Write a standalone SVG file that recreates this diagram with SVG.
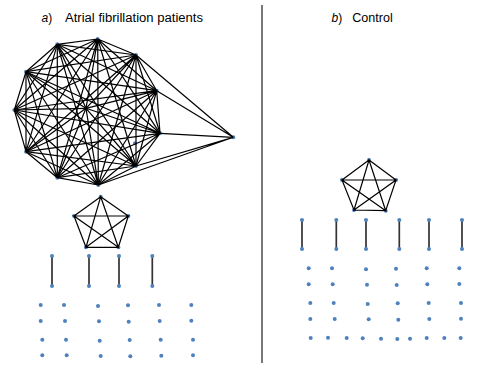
<svg xmlns="http://www.w3.org/2000/svg" width="498" height="374" viewBox="0 0 498 374">
<style>
.n{fill:#4f81bd}
.e{stroke:#000;stroke-width:1.2;fill:none}
.p{stroke:#333;stroke-width:1.7;fill:none}
.t{font-family:"Liberation Sans",Arial,sans-serif;font-size:12px;fill:#000}
.i{font-style:italic}
</style>
<rect width="498" height="374" fill="#fff"/>
<line x1="262" y1="5" x2="262" y2="363" stroke="#555" stroke-width="1.6"/>
<text class="t" x="41.5" y="22"><tspan class="i">a</tspan>)</text>
<text class="t" x="65" y="22" textLength="138" lengthAdjust="spacingAndGlyphs">Atrial fibrillation patients</text>
<text class="t" x="331.5" y="22"><tspan class="i">b</tspan>)</text>
<text class="t" x="352.3" y="22" textLength="40.5" lengthAdjust="spacingAndGlyphs">Control</text>

<g id="nodes-a-cluster">
<circle id="a0" class="n" cx="97.7" cy="39" r="2"/>
<circle id="a1" class="n" cx="136" cy="55" r="2"/>
<circle id="a2" class="n" cx="156.7" cy="90.7" r="2"/>
<circle id="a3" class="n" cx="160" cy="133.3" r="2"/>
<circle id="a4" class="n" cx="136" cy="166" r="2"/>
<circle id="a5" class="n" cx="98.3" cy="185" r="2"/>
<circle id="a6" class="n" cx="57.3" cy="177.7" r="2"/>
<circle id="a7" class="n" cx="26" cy="151.7" r="2"/>
<circle id="a8" class="n" cx="14.3" cy="110" r="2"/>
<circle id="a9" class="n" cx="26" cy="71.7" r="2"/>
<circle id="a10" class="n" cx="57.3" cy="44.3" r="2"/>
<circle id="a11" class="n" cx="86" cy="108.3" r="2"/>
<circle id="a12" class="n" cx="233.3" cy="137.3" r="2"/>
<circle id="a13" class="n" cx="135" cy="143.3" r="2"/>
</g>
<g id="nodes-a-pentagon">
<circle id="ap0" class="n" cx="100.7" cy="196.7" r="2"/>
<circle id="ap1" class="n" cx="128.3" cy="216" r="2"/>
<circle id="ap2" class="n" cx="118.3" cy="247.3" r="2"/>
<circle id="ap3" class="n" cx="86" cy="247.3" r="2"/>
<circle id="ap4" class="n" cx="74" cy="216" r="2"/>
</g>
<g id="nodes-b-pentagon">
<circle id="bp0" class="n" cx="369" cy="160" r="2"/>
<circle id="bp1" class="n" cx="396" cy="180" r="2"/>
<circle id="bp2" class="n" cx="385.7" cy="210.7" r="2"/>
<circle id="bp3" class="n" cx="354" cy="210" r="2"/>
<circle id="bp4" class="n" cx="342" cy="180" r="2"/>
</g>

<g id="connectors">
<path class="e" d="M97.7 39L136 55M97.7 39L156.7 90.7M97.7 39L160 133.3M97.7 39L136 166M97.7 39L98.3 185M97.7 39L57.3 177.7M97.7 39L26 151.7M97.7 39L14.3 110M97.7 39L26 71.7M97.7 39L57.3 44.3M97.7 39L86 108.3"/>
<path class="e" d="M136 55L156.7 90.7M136 55L160 133.3M136 55L136 166M136 55L98.3 185M136 55L57.3 177.7M136 55L26 151.7M136 55L14.3 110M136 55L26 71.7M136 55L57.3 44.3M136 55L86 108.3"/>
<path class="e" d="M156.7 90.7L160 133.3M156.7 90.7L136 166M156.7 90.7L98.3 185M156.7 90.7L57.3 177.7M156.7 90.7L26 151.7M156.7 90.7L14.3 110M156.7 90.7L26 71.7M156.7 90.7L57.3 44.3M156.7 90.7L86 108.3"/>
<path class="e" d="M160 133.3L136 166M160 133.3L98.3 185M160 133.3L57.3 177.7M160 133.3L26 151.7M160 133.3L14.3 110M160 133.3L26 71.7M160 133.3L57.3 44.3M160 133.3L86 108.3"/>
<path class="e" d="M136 166L98.3 185M136 166L57.3 177.7M136 166L26 151.7M136 166L14.3 110M136 166L26 71.7M136 166L57.3 44.3M136 166L86 108.3"/>
<path class="e" d="M98.3 185L57.3 177.7M98.3 185L26 151.7M98.3 185L14.3 110M98.3 185L26 71.7M98.3 185L57.3 44.3M98.3 185L86 108.3"/>
<path class="e" d="M57.3 177.7L26 151.7M57.3 177.7L14.3 110M57.3 177.7L26 71.7M57.3 177.7L57.3 44.3M57.3 177.7L86 108.3"/>
<path class="e" d="M26 151.7L14.3 110M26 151.7L26 71.7M26 151.7L57.3 44.3M26 151.7L86 108.3"/>
<path class="e" d="M14.3 110L26 71.7M14.3 110L57.3 44.3M14.3 110L86 108.3"/>
<path class="e" d="M26 71.7L57.3 44.3M26 71.7L86 108.3"/>
<path class="e" d="M57.3 44.3L86 108.3"/>
<path class="e" d="M233.3 137.3L136 55M233.3 137.3L156.7 90.7M233.3 137.3L160 133.3M233.3 137.3L136 166M233.3 137.3L98.3 185"/>
<path class="e" d="M100.7 196.7L128.3 216L118.3 247.3L86 247.3L74 216ZM100.7 196.7L118.3 247.3L74 216L128.3 216L86 247.3Z"/>
<path class="e" d="M369 160L396 180L385.7 210.7L354 210L342 180ZM369 160L385.7 210.7L342 180L396 180L354 210Z"/>
<path class="p" d="M52 256V286M89 256V286M119 256V286M152.3 256V286"/>
<path class="p" d="M302 220V249M336.3 220V249M366 220V249M399.3 220V249M429 220V249M462 220V249"/>
</g>

<g id="nodes-a-pairs">
<circle class="n" cx="52" cy="256" r="2"/><circle class="n" cx="52" cy="286" r="2"/>
<circle class="n" cx="89" cy="256" r="2"/><circle class="n" cx="89" cy="286" r="2"/>
<circle class="n" cx="119" cy="256" r="2"/><circle class="n" cx="119" cy="286" r="2"/>
<circle class="n" cx="152.3" cy="256" r="2"/><circle class="n" cx="152.3" cy="286" r="2"/>
</g>
<g id="nodes-b-pairs">
<circle class="n" cx="302" cy="220" r="2"/><circle class="n" cx="302" cy="249" r="2"/>
<circle class="n" cx="336.3" cy="220" r="2"/><circle class="n" cx="336.3" cy="249" r="2"/>
<circle class="n" cx="366" cy="220" r="2"/><circle class="n" cx="366" cy="249" r="2"/>
<circle class="n" cx="399.3" cy="220" r="2"/><circle class="n" cx="399.3" cy="249" r="2"/>
<circle class="n" cx="429" cy="220" r="2"/><circle class="n" cx="429" cy="249" r="2"/>
<circle class="n" cx="462" cy="220" r="2"/><circle class="n" cx="462" cy="249" r="2"/>
</g>
<g id="nodes-a-isolated">
<circle class="n" cx="40.7" cy="305" r="2"/><circle class="n" cx="64" cy="305" r="2"/><circle class="n" cx="98" cy="306" r="2"/><circle class="n" cx="128" cy="305.3" r="2"/><circle class="n" cx="159" cy="305" r="2"/><circle class="n" cx="191.3" cy="305" r="2"/>
<circle class="n" cx="40.7" cy="321" r="2"/><circle class="n" cx="65" cy="321" r="2"/><circle class="n" cx="99" cy="321.3" r="2"/><circle class="n" cx="128.7" cy="321.7" r="2"/><circle class="n" cx="159.7" cy="321" r="2"/><circle class="n" cx="191.3" cy="320.7" r="2"/>
<circle class="n" cx="42.3" cy="339.7" r="2"/><circle class="n" cx="66" cy="339.7" r="2"/><circle class="n" cx="99.7" cy="340.7" r="2"/><circle class="n" cx="129.7" cy="340" r="2"/><circle class="n" cx="160.7" cy="339.7" r="2"/><circle class="n" cx="193" cy="339.7" r="2"/>
<circle class="n" cx="42.3" cy="355.3" r="2"/><circle class="n" cx="66.7" cy="355.3" r="2"/><circle class="n" cx="100.7" cy="356" r="2"/><circle class="n" cx="130.3" cy="356.3" r="2"/><circle class="n" cx="161.3" cy="355.7" r="2"/><circle class="n" cx="193" cy="355.3" r="2"/>
</g>
<g id="nodes-b-isolated">
<circle class="n" cx="308.7" cy="268.3" r="2"/><circle class="n" cx="332" cy="268.3" r="2"/><circle class="n" cx="366" cy="269.3" r="2"/><circle class="n" cx="396" cy="268.7" r="2"/><circle class="n" cx="426.7" cy="268.3" r="2"/><circle class="n" cx="459.3" cy="268.3" r="2"/>
<circle class="n" cx="308.7" cy="284.3" r="2"/><circle class="n" cx="332.7" cy="284.3" r="2"/><circle class="n" cx="367" cy="284.7" r="2"/><circle class="n" cx="396.7" cy="285" r="2"/><circle class="n" cx="427.3" cy="284.3" r="2"/><circle class="n" cx="459.3" cy="284" r="2"/>
<circle class="n" cx="310.3" cy="303" r="2"/><circle class="n" cx="333.7" cy="303" r="2"/><circle class="n" cx="367.7" cy="304" r="2"/><circle class="n" cx="397.7" cy="303.3" r="2"/><circle class="n" cx="428.7" cy="303" r="2"/><circle class="n" cx="461" cy="303" r="2"/>
<circle class="n" cx="310.3" cy="319" r="2"/><circle class="n" cx="334.7" cy="319" r="2"/><circle class="n" cx="368.7" cy="319.3" r="2"/><circle class="n" cx="398.3" cy="319.7" r="2"/><circle class="n" cx="429.3" cy="319" r="2"/><circle class="n" cx="461" cy="318.7" r="2"/>
<circle class="n" cx="310.7" cy="338" r="2"/><circle class="n" cx="328" cy="337.7" r="2"/><circle class="n" cx="346.7" cy="338" r="2"/><circle class="n" cx="362.7" cy="338.3" r="2"/><circle class="n" cx="381" cy="338.7" r="2"/><circle class="n" cx="397.3" cy="339" r="2"/><circle class="n" cx="410" cy="338.7" r="2"/><circle class="n" cx="426.7" cy="338" r="2"/><circle class="n" cx="444.3" cy="338" r="2"/><circle class="n" cx="460.7" cy="338" r="2"/>
</g>
</svg>
